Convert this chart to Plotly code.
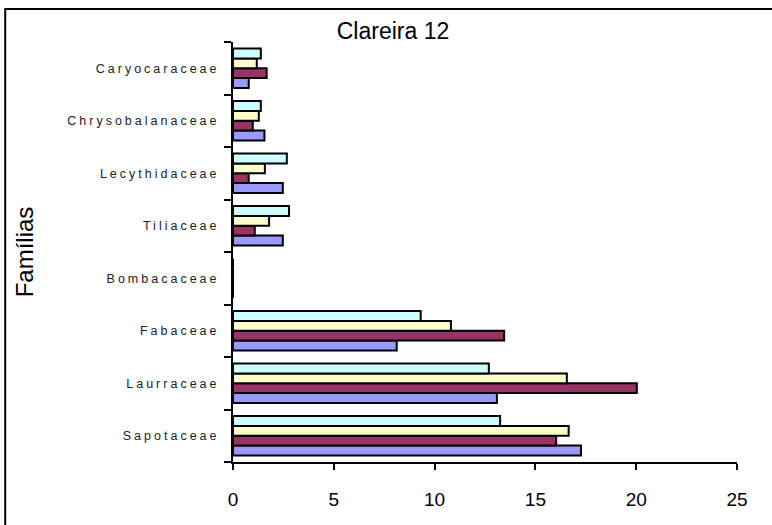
import plotly.graph_objects as go

categories = ["Sapotaceae", "Laurraceae", "Fabaceae", "Bombacaceae",
              "Tiliaceae", "Lecythidaceae", "Chrysobalanaceae", "Caryocaraceae"]
series_names = ["Série 1", "Série 2", "Série 3", "Série 4"]
s1 = [17.26, 13.09, 8.12, 0, 2.47, 2.47, 1.56, 0.78]
s2 = [16.03, 20.03, 13.45, 0, 1.08, 0.78, 0.98, 1.67]
s3 = [16.65, 16.56, 10.81, 0, 1.79, 1.58, 1.28, 1.18]
s4 = [13.25, 12.69, 9.31, 0, 2.78, 2.67, 1.38, 1.38]
colors = ["#9999FF", "#993366", "#FFFFCC", "#CCFFFF"]
xticks = [0, 5, 10, 15, 20, 25]

labels = [f"<span style='letter-spacing:3px'>{c}</span>" for c in categories]

fig = go.Figure()
for name, vals, col in zip(series_names, [s1, s2, s3, s4], colors):
    fig.add_trace(go.Bar(
        y=labels, x=vals, name=name, orientation="h",
        marker=dict(color=col, line=dict(color="black", width=2)),
        showlegend=False,
    ))

L, R, T, B = 233, 737.5, 42, 462
W, H = 772, 525

fig.update_layout(
    width=W, height=H,
    margin=dict(l=L, r=W - R, t=T, b=H - B, pad=0),
    barmode="group", bargap=0.25, bargroupgap=0,
    plot_bgcolor="white", paper_bgcolor="white",
    font=dict(family="Liberation Sans, Arial, sans-serif", color="black"),
    title=dict(text="Clareira 12", x=393 / W, xref="container", xanchor="center",
               y=1 - 31 / H, yref="container", yanchor="middle",
               font=dict(size=23, color="black")),
    xaxis=dict(range=[0, 25], tickvals=xticks, ticktext=[str(v) for v in xticks],
               showgrid=False, zeroline=False, showline=True, linecolor="black",
               linewidth=2, ticks="outside", ticklen=6, tickwidth=2, tickcolor="black",
               tickfont=dict(size=19, color="black"), ticklabelstandoff=13),
    yaxis=dict(type="category", categoryorder="array", categoryarray=labels,
               showgrid=False, zeroline=False, showline=True, linecolor="black",
               linewidth=2, ticks="outside", ticklen=7, tickwidth=2, tickcolor="black",
               tickson="boundaries", tickfont=dict(size=12.5, color="#222222"),
               ticklabelstandoff=9,
               title=dict(text="Famílias", font=dict(size=24, color="black"), standoff=27)),
    shapes=[dict(type="rect", xref="paper", yref="paper",
                 x0=(5 - L) / (R - L), x1=1.3, y0=-0.3, y1=(B - 9) / (B - T),
                 line=dict(color="black", width=2), fillcolor="rgba(0,0,0,0)", layer="below")],
)

fig.write_html("out.html")
